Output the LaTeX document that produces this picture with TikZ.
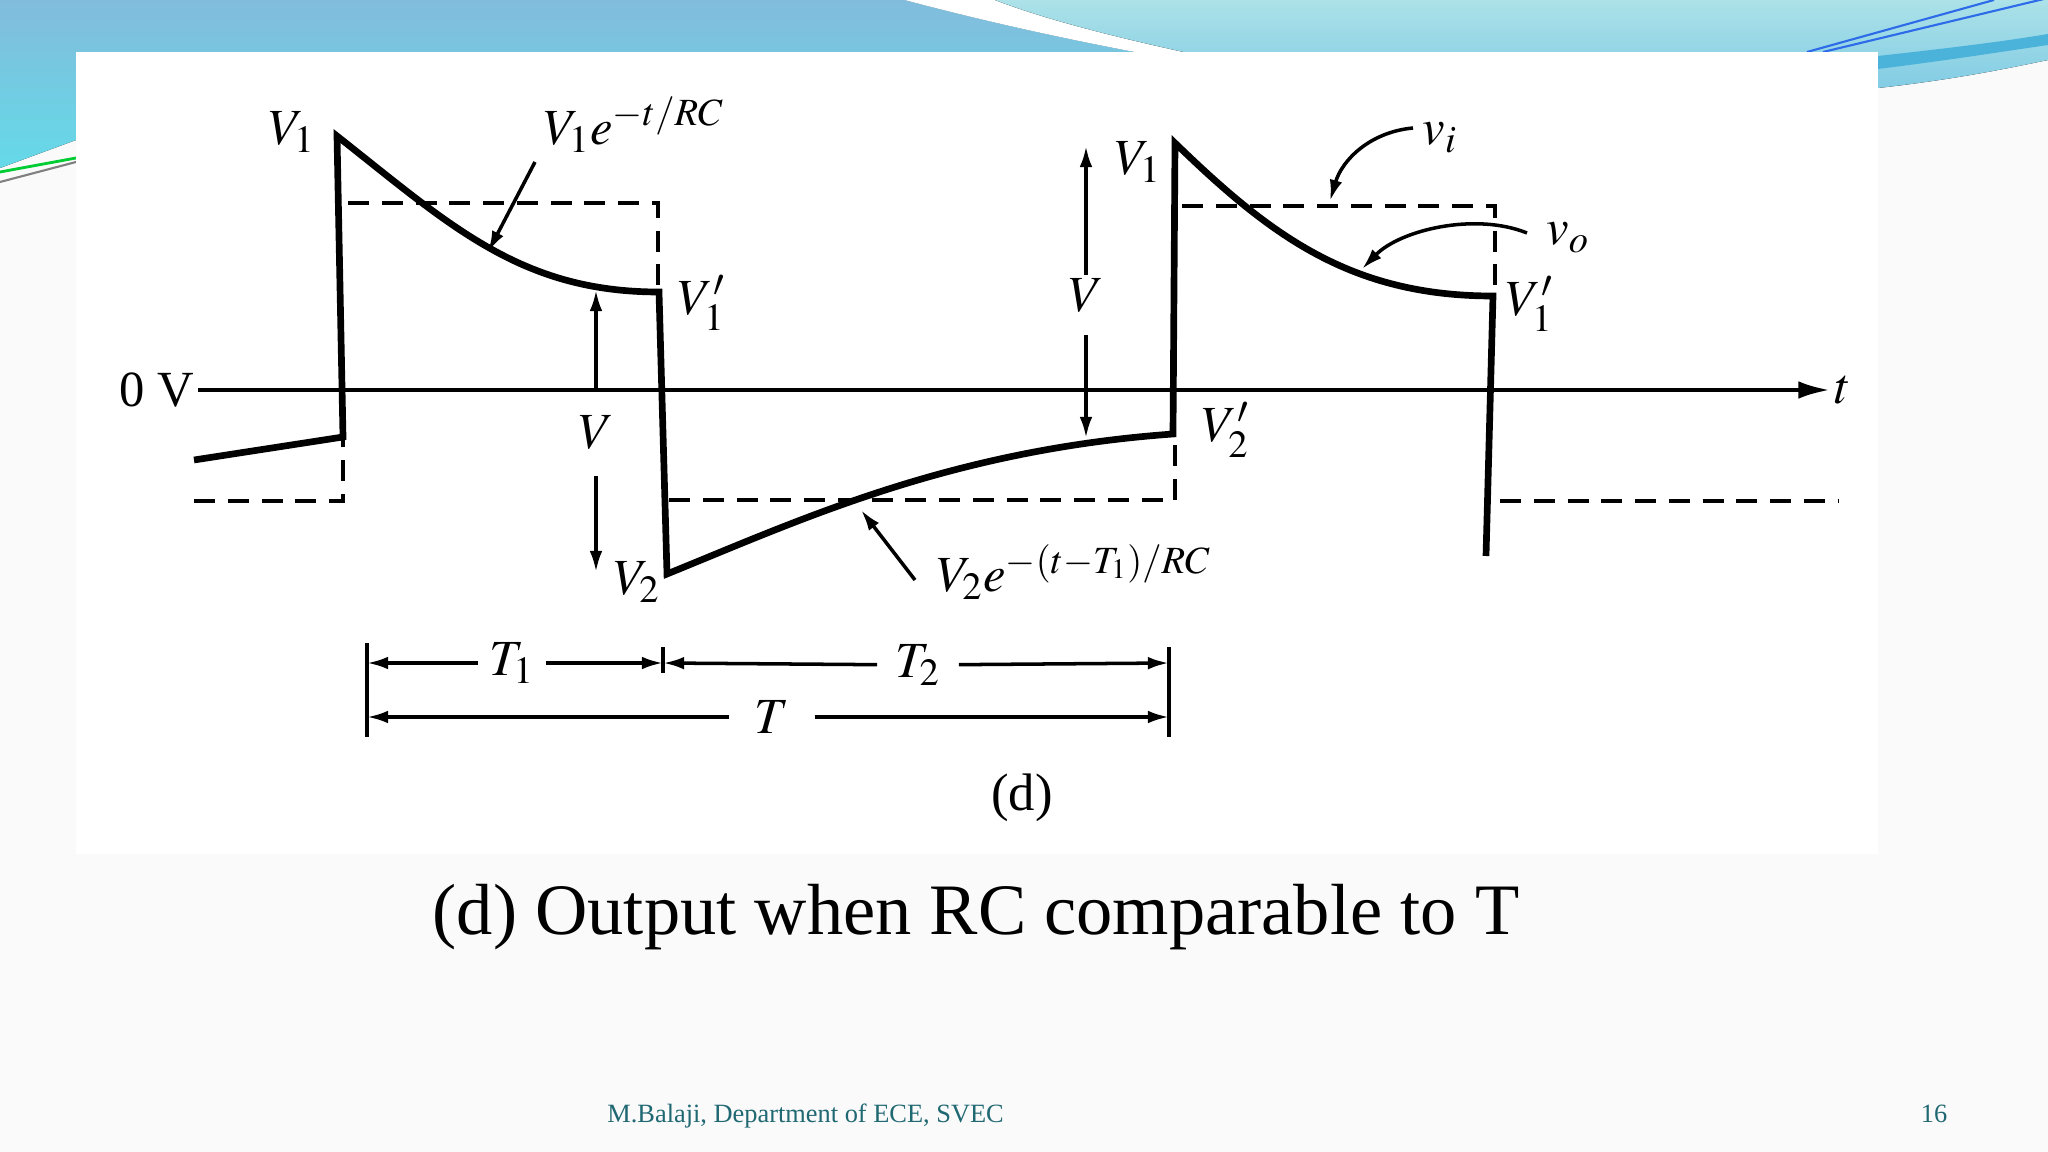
\documentclass[tikz,border=0pt]{standalone}
\usepackage{mathptmx}
\usepackage{fontspec}
\setmainfont{Liberation Serif}
\usetikzlibrary{arrows.meta,positioning}

\definecolor{slidebg}{RGB}{250,250,251}
\definecolor{bandtop}{RGB}{130,188,220}
\definecolor{bandbot}{RGB}{100,218,232}
\definecolor{lighttop}{RGB}{172,226,232}
\definecolor{lightbot}{RGB}{130,204,228}
\definecolor{stripe}{RGB}{75,178,218}
\definecolor{footteal}{RGB}{32,104,114}

\begin{document}
\begin{tikzpicture}[x=0.01cm,y=-0.01cm,>={Latex[length=6pt,width=3.6pt]}]
  \tikzstyle{wave}=[line width=1.9pt,line join=miter]
  \tikzstyle{inlvl}=[line width=1.1pt,dash pattern=on 6pt off 3.6pt]
  \tikzstyle{lbl}=[inner sep=1pt,font=\fontsize{14.4}{16}\selectfont]
  \tikzstyle{pointer}=[line width=1pt,->]
  \tikzstyle{dimln}=[line width=1pt]
  \useasboundingbox (0,0) rectangle (2048,1152);

  \fill[slidebg] (0,0) rectangle (2048,1152);
  \fill[top color=bandtop,bottom color=bandbot] (0,0) -- (905,0) .. controls (1010,28) and (1110,48) .. (1190,62) -- (76,62) -- (76,140) -- (0,168) -- cycle;
  \fill[white] (905,0) .. controls (1010,28) and (1110,48) .. (1190,62) -- (1230,62) .. controls (1150,45) and (1060,25) .. (995,0) -- cycle;
  \fill[top color=lighttop,bottom color=lightbot] (995,0) .. controls (1060,25) and (1150,45) .. (1230,62) -- (1878,62) -- (1878,88) .. controls (1950,80) and (2000,70) .. (2048,60) -- (2048,0) -- cycle;
  \fill[stripe] (1878,56) .. controls (1950,48) and (2000,42) .. (2048,34) -- (2048,45) .. controls (2000,52) and (1950,60) .. (1878,69) -- cycle;
  \draw[stripe!60!blue,line width=0.6pt] (1807,52) -- (1994,0);
  \draw[stripe!60!blue,line width=0.6pt] (1823,52) -- (2048,-2);
  \draw[green!60!teal,line width=0.8pt] (0,172) -- (76,158);
  \draw[gray,line width=0.6pt] (0,182) -- (76,162);
  \fill[white] (76,52) rectangle (1878,854);

  \coordinate (w0) at (194,460);
  \coordinate (w1) at (343,437);
  \coordinate (pk1) at (337,136);
  \coordinate (e1) at (659,292);
  \coordinate (v2) at (667,574);
  \coordinate (e2) at (1173,434);
  \coordinate (pk2) at (1175,143);
  \coordinate (e3) at (1493,296);
  \coordinate (w9) at (1486,556);
  \coordinate (ax1) at (1830,390);

  \node[lbl,anchor=east] (zero) at (198,390) {0 V};
  \node[lbl] (tl) at (1843,390) {$t$};
  \draw[line width=1.2pt,-{Latex[length=9pt,width=5pt]}] (zero.east) -- (ax1);

  \draw[inlvl] (194,501) -- (343,501) -- (343,440);
  \draw[inlvl] (348,203) -- (658,203) -- (658,292);
  \draw[inlvl] (669,500) -- (1175,500) -- (1175,436);
  \draw[inlvl] (1182,206) -- (1495,206) -- (1495,296);
  \draw[inlvl] (1500,501) -- (1838,501);

  \draw[wave] (w0) -- (w1) -- (pk1) .. controls (450,225) and (520,292) .. (e1) -- (v2)
    .. controls (800,520) and (950,450) .. (e2) -- (pk2) .. controls (1270,235) and (1350,296) .. (e3) -- (w9);

  \node[lbl] (V1a) at (292,132) {$V_1$};
  \node[lbl] (decay) at (634,125) {$V_1e^{-t/RC}$};
  \node[lbl] (V1pa) at (702,303) {$V'_1$};
  \node[lbl] (Va) at (596,432) {$V$};
  \node[lbl] (V2) at (637,582) {$V_2$};
  \node[lbl] (V1b) at (1138,162) {$V_1$};
  \node[lbl] (Vb) at (1086,296) {$V$};
  \node[lbl] (V2p) at (1226,430) {$V'_2$};
  \node[lbl] (vi) at (1440,138) {$v_i$};
  \node[lbl] (vo) at (1568,238) {$v_o$};
  \node[lbl] (V1pb) at (1530,304) {$V'_1$};
  \node[lbl] (grow) at (1074,572) {$V_2e^{-(t-T_1)/RC}$};

  \coordinate (Vaax) at (596,389);
  \coordinate (Vatop) at (596,290);
  \coordinate (Vadn) at (596,476);
  \coordinate (Vabot) at (596,572);
  \coordinate (Vbtop) at (1086,146);
  \coordinate (Vbdn) at (1086,335);
  \coordinate (Vbbot) at (1086,438);
  \draw[pointer] (Vaax) -- (Vatop);
  \draw[pointer] (Vadn) -- (Vabot);
  \draw[pointer] (Vb) -- (Vbtop);
  \draw[pointer] (Vbdn) -- (Vbbot);

  \coordinate (c1s) at (535,162);
  \coordinate (c1e) at (488,252);
  \coordinate (c2s) at (1413,128);
  \coordinate (c2e) at (1330,201);
  \coordinate (c3s) at (1527,233);
  \coordinate (c3e) at (1362,269);
  \coordinate (c4s) at (915,580);
  \coordinate (c4e) at (861,510);
  \draw[pointer] (c1s) -- (c1e);
  \draw[pointer] (c2s) .. controls (1370,132) and (1342,160) .. (c2e);
  \draw[pointer] (c3s) .. controls (1475,212) and (1400,230) .. (c3e);
  \draw[pointer] (c4s) -- (c4e);

  \coordinate (d0t) at (367,643);
  \coordinate (d0b) at (367,737);
  \coordinate (d1t) at (663,647);
  \coordinate (d1b) at (663,673);
  \coordinate (d2t) at (1169,647);
  \coordinate (d2b) at (1169,737);
  \coordinate (d0m) at (367,663);
  \coordinate (d1m) at (663,663);
  \coordinate (d2m) at (1169,663);
  \coordinate (d0l) at (367,717);
  \coordinate (d2l) at (1169,717);
  \draw[dimln] (d0t) -- (d0b);
  \draw[dimln] (d1t) -- (d1b);
  \draw[dimln] (d2t) -- (d2b);
  \node[lbl] (T1) at (512,663) {$T_1$};
  \node[lbl] (T2) at (918,665) {$T_2$};
  \node[lbl] (T) at (772,717) {$T$};
  \draw[pointer,shorten <=2pt] (T1) -- (d0m);
  \draw[pointer,shorten <=2pt] (T1) -- (d1m);
  \draw[pointer,shorten <=4pt] (T2) -- (d1m);
  \draw[pointer,shorten <=4pt] (T2) -- (d2m);
  \draw[pointer,shorten <=6pt] (T) -- (d0l);
  \draw[pointer,shorten <=6pt] (T) -- (d2l);

  \node[font=\fontsize{15}{17}\selectfont] (fig) at (1022,798) {(d)};
  \node[anchor=base,font=\fontsize{20.6}{24}\selectfont] (cap) at (976,934) {(d) Output when RC comparable to T};
  \node[anchor=base west,text=footteal,font=\fontsize{7.5}{9}\selectfont] (foot) at (595,1122) {M.Balaji, Department of ECE, SVEC};
  \node[anchor=base,text=footteal,font=\fontsize{7.5}{9}\selectfont] (pg) at (1934,1122) {16};
\end{tikzpicture}
\end{document}
